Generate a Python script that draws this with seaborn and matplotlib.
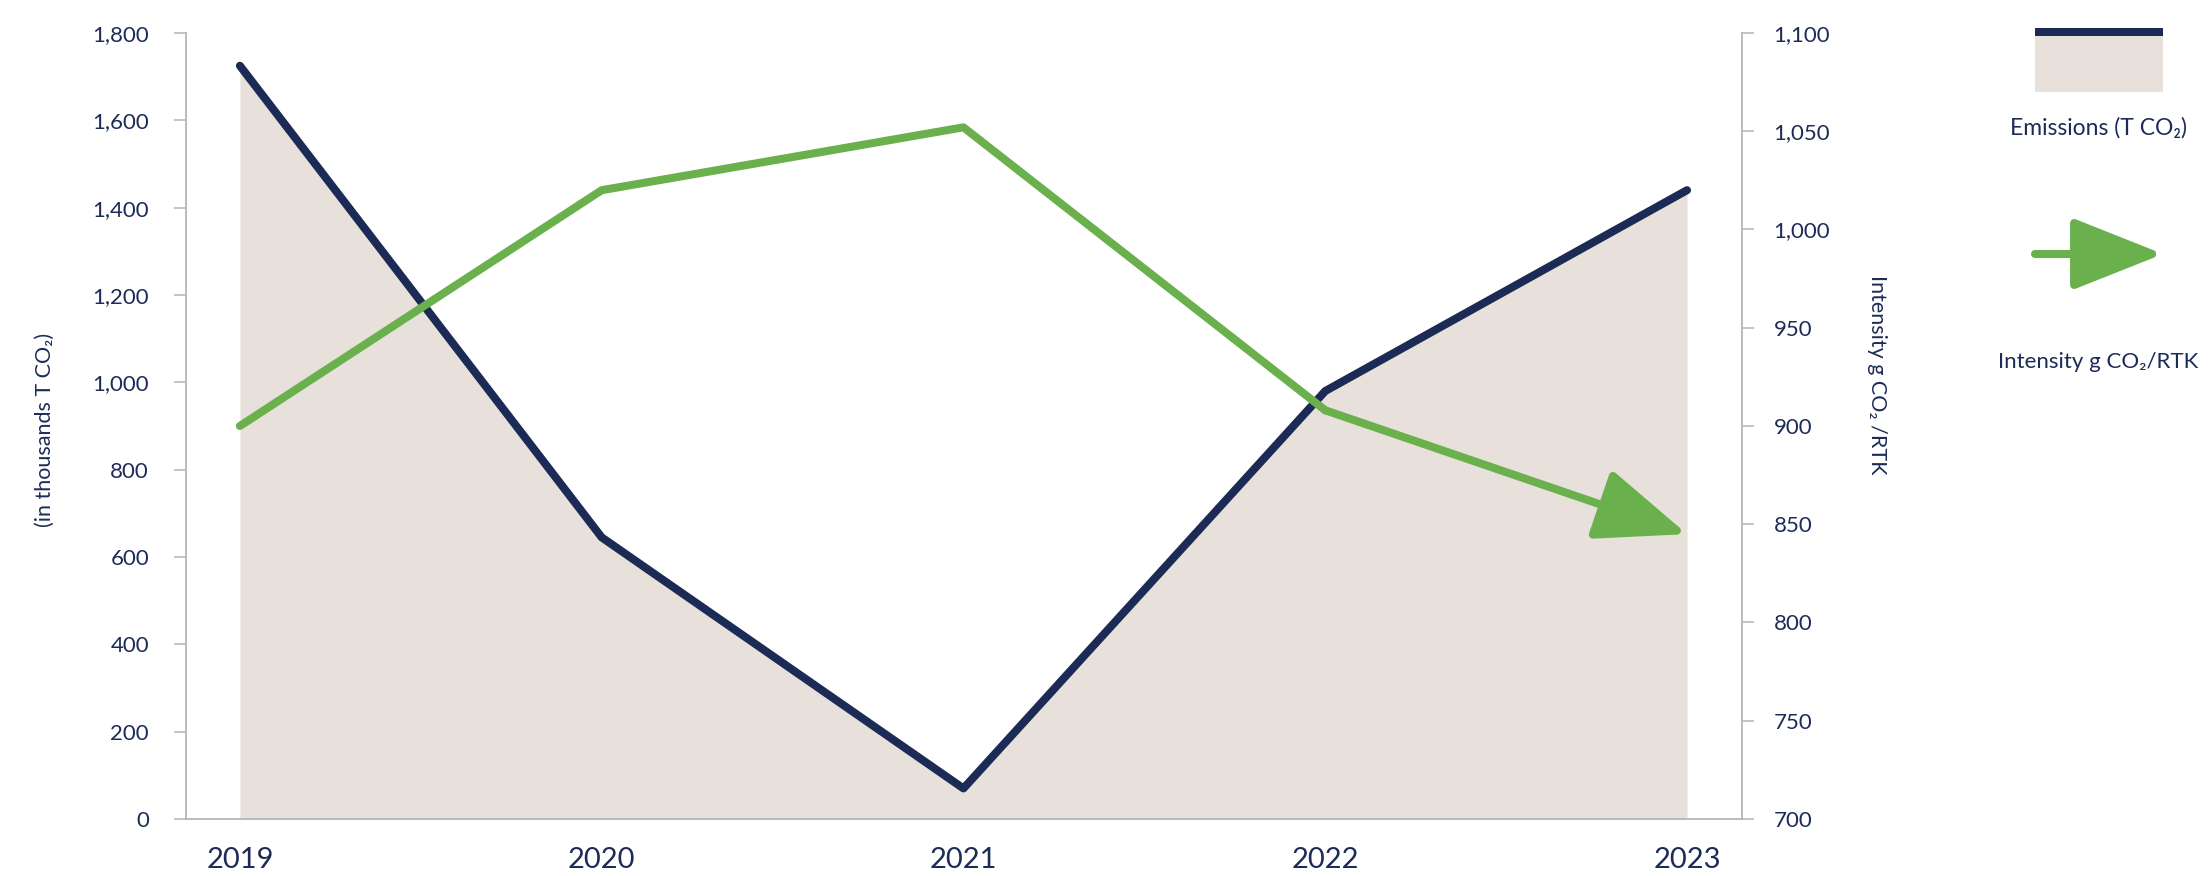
import matplotlib
matplotlib.use("Agg")
import matplotlib.pyplot as plt
import seaborn as sns
import numpy as np
import pandas as pd
from matplotlib.patches import Rectangle, FancyArrowPatch
from matplotlib.ticker import FuncFormatter

# ---- data ----
years = [2019, 2020, 2021, 2022, 2023]
emissions = [1725, 645, 70, 980, 1440]          # thousands T CO2 (left axis)
intensity = [900, 1020, 1052, 908, 845]         # g CO2/RTK (right axis)
left_ticks = [0, 200, 400, 600, 800, 1000, 1200, 1400, 1600, 1800]
right_ticks = [700, 750, 800, 850, 900, 950, 1000, 1050, 1100]
xtick_labels = ["2019", "2020", "2021", "2022", "2023"]

NAVY = "#1b2b55"
GREEN = "#6ab04c"
BEIGE = "#e8e0da"
GREY = "#b5b5b5"
TXT = "#1d2b57"

sns.set_theme(style="white")
plt.rcParams["font.family"] = ["Lato", "DejaVu Sans"]

W, H = 2208, 876
fig = plt.figure(figsize=(W / 100, H / 100), dpi=100)
ax = fig.add_axes([186 / W, 1 - 819 / H, (1742 - 186) / W, (819 - 33) / H])
ax2 = ax.twinx()

df = pd.DataFrame({"year": years, "emissions": emissions, "intensity": intensity})

# emissions area + line
ax.fill_between(df["year"], df["emissions"], 0, color=BEIGE, lw=0, zorder=1)
sns.lineplot(data=df, x="year", y="emissions", ax=ax, color=NAVY, lw=5.8,
             sort=False, zorder=3)

# intensity line with arrow head on the final segment
sns.lineplot(data=df.iloc[:4], x="year", y="intensity", ax=ax2, color=GREEN,
             lw=5.8, sort=False, solid_capstyle="round")
ax2.annotate("", xy=(years[4], intensity[4]), xytext=(years[3], intensity[3]),
             xycoords="data",
             arrowprops=dict(arrowstyle="-|>,head_length=0.78,head_width=0.31",
                             mutation_scale=72, lw=5.8, color=GREEN,
                             shrinkA=0, shrinkB=0))

# axes limits
ax.set_xlim(2018.851, 2023.152)
ax.set_ylim(0, 1800)
ax2.set_ylim(700, 1100)

fmt = FuncFormatter(lambda v, p: f"{int(v):,}")
ax.set_yticks(left_ticks)
ax.yaxis.set_major_formatter(fmt)
ax2.set_yticks(right_ticks)
ax2.yaxis.set_major_formatter(fmt)
ax.set_xticks(years)
ax.set_xticklabels(xtick_labels)

ax.set_xlabel("")
ax.set_ylabel("")
ax2.set_ylabel("")

for s in ["top", "right"]:
    ax.spines[s].set_visible(False)
for s in ["top", "left", "bottom"]:
    ax2.spines[s].set_visible(False)
for sp in [ax.spines["left"], ax.spines["bottom"], ax2.spines["right"]]:
    sp.set_color(GREY)
    sp.set_linewidth(1.3)

ax.tick_params(axis="y", which="both", left=True, length=8.6, width=1.1,
               color=GREY, labelsize=16, labelcolor=TXT, pad=18)
ax.tick_params(axis="x", bottom=False, labelsize=21, labelcolor=TXT, pad=14)
ax2.tick_params(axis="y", right=True, length=8.6, width=1.1, color=GREY,
                labelsize=16, labelcolor=TXT, pad=14)
ax.grid(False)
ax2.grid(False)

# axis titles
fig.text(45 / W, 1 - 430 / H, "(in thousands T CO\u2082)", rotation=90,
         ha="center", va="center", fontsize=15.5, color=TXT)
fig.text(1877 / W, 1 - 375 / H, "Intensity g CO\u2082 /RTK", rotation=270,
         ha="center", va="center", fontsize=15.5, color=TXT)

# legend (manual, figure coordinates)
fig.patches.append(Rectangle((2035 / W, 1 - 92 / H), 128 / W, 64 / H,
                             transform=fig.transFigure, facecolor=BEIGE,
                             edgecolor="none"))
fig.patches.append(Rectangle((2035 / W, 1 - 36 / H), 128 / W, 8 / H,
                             transform=fig.transFigure, facecolor=NAVY,
                             edgecolor="none"))
fig.text(2099 / W, 1 - 128 / H, "Emissions (T CO\u2082)", ha="center",
         va="center", fontsize=16.5, color=TXT)

fig.patches.append(FancyArrowPatch((2035 / W, 1 - 254 / H), (2163 / W, 1 - 254 / H),
                                   transform=fig.transFigure,
                                   arrowstyle="-|>,head_length=0.78,head_width=0.31",
                                   mutation_scale=72, lw=5.8, color=GREEN,
                                   shrinkA=0, shrinkB=0))
fig.text(2098 / W, 1 - 362 / H, "Intensity g CO\u2082/RTK", ha="center",
         va="center", fontsize=16, color=TXT)

fig.savefig("out.png", dpi=100, facecolor="white")
